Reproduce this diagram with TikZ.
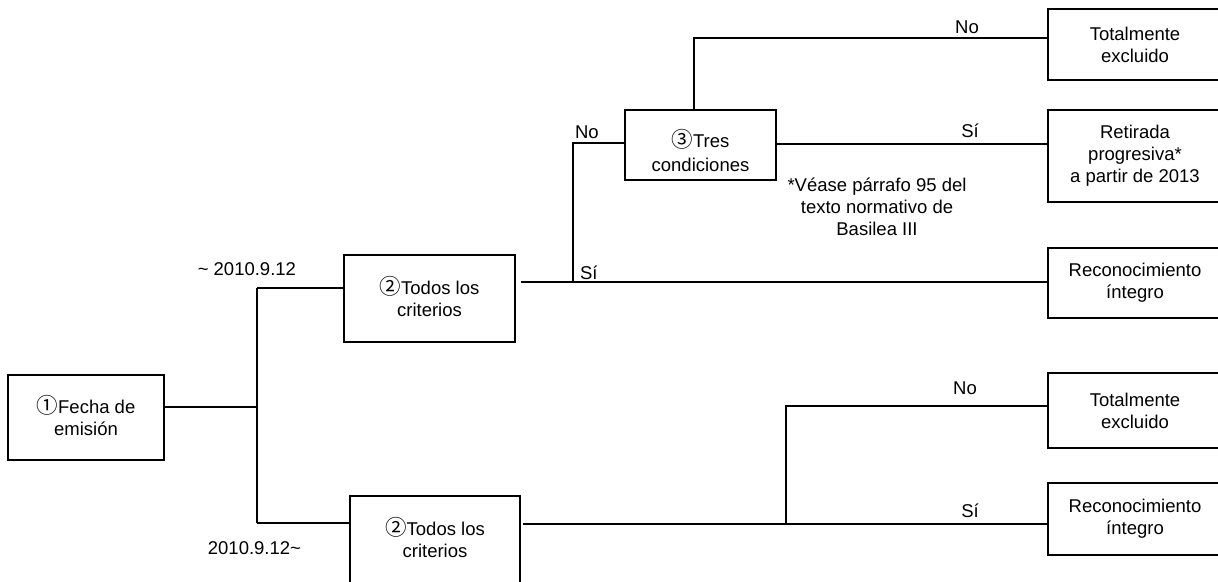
\documentclass[tikz,border=0pt]{standalone}
\usepackage{fontspec}
\setmainfont{Liberation Sans}
\newfontfamily\circfont{Noto Sans CJK JP}
\newcommand{\fs}{\fontsize{18.5}{22}\selectfont}
\newcommand{\cn}[1]{\smash{\circfont\fontsize{21.5}{22}\selectfont #1}}
\begin{document}
\begin{tikzpicture}[x=1pt,y=-1pt, line width=2pt, line join=miter,
  box/.style={draw, align=center, inner sep=0pt, font=\fs},
  rbox/.style={box, minimum width=174pt},
  lbl/.style={font=\fs, inner sep=0pt}]
\useasboundingbox (0,0) rectangle (1218,581);
% boxes
\node[box, minimum width=156pt, minimum height=85pt] (b1) at (86,417.5) {\cn{①}Fecha de\\emisión};
\node[box, minimum width=171pt, minimum height=87pt] (b2) at (429.5,298.5) {\cn{②}Todos los\\criterios};
\node[box, minimum width=170pt, minimum height=87pt] (b2b) at (435,539.5) {\cn{②}Todos los\\criterios};
\node[box, minimum width=151pt, minimum height=70pt] (b3) at (700.5,145) {};
\node[lbl, align=center] (b3t) at ([yshift=-8pt]b3.center) {\cn{③}Tres\\[2pt]condiciones};
\node[rbox, minimum height=71pt] (r1) at (1135,44.5) {Totalmente\\excluido};
\node[rbox, minimum height=92pt] (r2) at (1135,156) {Retirada\\progresiva*\\a partir de 2013};
\node[rbox, minimum height=70pt] (r3) at (1135,283) {Reconocimiento\\íntegro};
\node[rbox, minimum height=75pt] (r4) at (1135,410.5) {Totalmente\\excluido};
\node[rbox, minimum height=72pt] (r5) at (1135,519) {Reconocimiento\\íntegro};
% junctions
\coordinate (j1) at (257,407);
\coordinate (jt) at (257,288);
\coordinate (jb) at (257,523);
\coordinate (s2) at (521,282);
\coordinate (j2) at (573,282);
\coordinate (j3) at (573,143);
\coordinate (t3) at (694,38);
\coordinate (e3) at (776,144);
\coordinate (s4) at (523,524);
\coordinate (j4) at (786,524);
\coordinate (k4) at (786,406);
% connectors
\draw (b1.east |- j1) -- (j1);
\draw (jt) -- (jb);
\draw (jt) -- (b2.west |- jt);
\draw (jb) -- (b2b.west |- jb);
\draw (s2) -- (r3.west |- s2);
\draw (j2) -- (j3) -- (b3.west |- j3);
\draw (b3.north -| t3) -- (t3) -- (r1.west |- t3);
\draw (e3) -- (r2.west |- e3);
\draw (s4) -- (r5.west |- s4);
\draw (j4) -- (k4) -- (r4.west |- k4);
% labels
\node[lbl] (lno1) at (967,27) {No};
\node[lbl] (lsi1) at (970,131) {Sí};
\node[lbl, anchor=west] (lno2) at (574,132) {No};
\node[lbl, anchor=west] (lsi2) at (579,273) {Sí};
\node[lbl] (lno3) at (965,388) {No};
\node[lbl] (lsi3) at (970,511) {Sí};
\node[lbl, anchor=east] (d1) at (297,269) {\textasciitilde\ 2010.9.12};
\node[lbl, anchor=east] (d2) at (302,548) {2010.9.12\textasciitilde};
\node[lbl, align=center] (fn) at (877,207) {*Véase párrafo 95 del\\texto normativo de\\Basilea III};
\end{tikzpicture}
\end{document}
